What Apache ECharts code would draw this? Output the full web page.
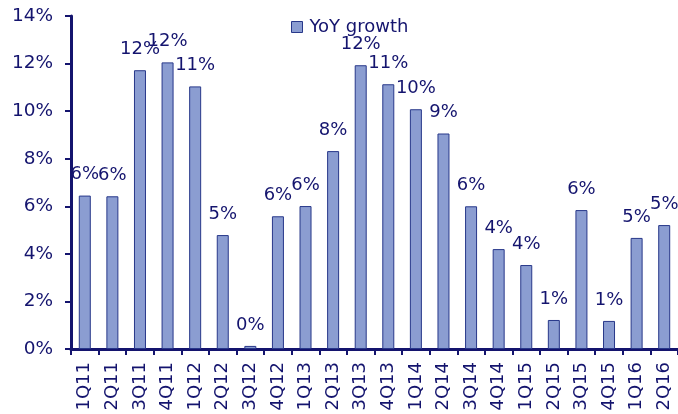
<!DOCTYPE html>
<html><head><meta charset="utf-8">
<script src="https://cdn.jsdelivr.net/npm/echarts@6/dist/echarts.min.js"></script>
<style>html,body{margin:0;padding:0;background:#fff}#c{width:678px;height:414px}</style>
</head><body><div id="c"></div>
<script>
const categories = ['1Q11','2Q11','3Q11','4Q11','1Q12','2Q12','3Q12','4Q12','1Q13','2Q13','3Q13','4Q13','1Q14','2Q14','3Q14','4Q14','1Q15','2Q15','3Q15','4Q15','1Q16','2Q16'];
const yoyGrowth = [6.45,6.42,11.72,12.05,11.04,4.79,0.13,5.58,6.01,8.32,11.93,11.13,10.08,9.06,6.0,4.2,3.53,1.22,5.84,1.18,4.67,5.21];
const seriesName = 'YoY growth';
const yTicks = {min:0, max:14, interval:2};
const navy = '#14146e';
const chart = echarts.init(document.getElementById('c'));
chart.setOption({
  animation:false,
  textStyle:{fontFamily:'DejaVu Sans'},
  legend:{data:[seriesName], left:286, top:13, icon:'rect', itemWidth:11, itemHeight:11, itemGap:4,
    itemStyle:{borderColor:'#28388a', borderWidth:1},
    textStyle:{color:navy, fontSize:18, fontFamily:'DejaVu Sans', padding:[0,0,0,2]}},
  grid:{left:71, top:16, right:0, bottom:65, containLabel:false},
  xAxis:{type:'category', data:categories, boundaryGap:true,
    axisLine:{lineStyle:{color:navy, width:3}},
    axisTick:{show:true, alignWithLabel:false, length:6, lineStyle:{color:navy, width:2}},
    axisLabel:{rotate:90, color:navy, fontSize:18, margin:13, interval:0}},
  yAxis:{type:'value', min:yTicks.min, max:yTicks.max, interval:yTicks.interval,
    splitLine:{show:false},
    axisLine:{show:true, lineStyle:{color:navy, width:3}},
    axisTick:{show:true, length:6, lineStyle:{color:navy, width:2}},
    axisLabel:{color:navy, fontSize:18.5, margin:18, formatter:v=>v+'%'}},
  series:[{name:seriesName, type:'bar', data:yoyGrowth, barWidth:12,
    itemStyle:{color:'#8b9dd1', borderColor:'#28388a', borderWidth:1},
    label:{show:true, position:'top', distance:12, color:navy, fontSize:18,
      formatter:p=>Math.round(p.value)+'%'}}]
});
</script></body></html>
